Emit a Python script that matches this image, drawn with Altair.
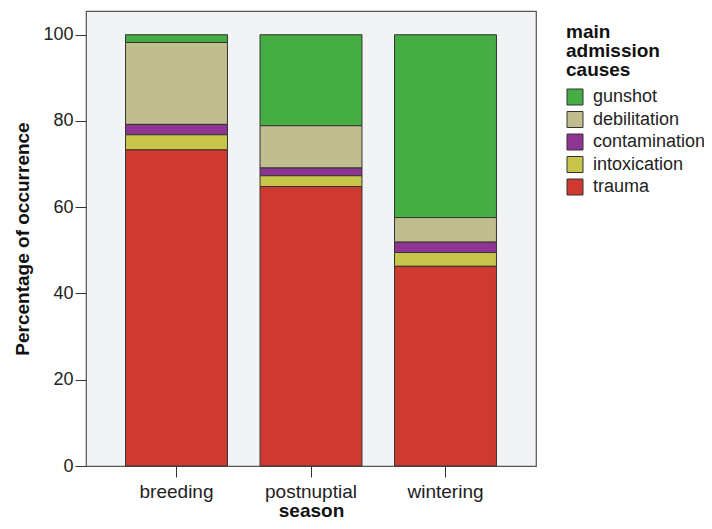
import altair as alt
import pandas as pd

seasons = ["breeding", "postnuptial", "wintering"]
causes = ["gunshot", "debilitation", "contamination", "intoxication", "trauma"]
trauma = [73.3, 64.8, 46.3]
intoxication = [3.5, 2.5, 3.2]
contamination = [2.4, 1.8, 2.4]
debilitation = [19.0, 9.8, 5.7]
gunshot = [1.8, 21.1, 42.4]
colors = ["#45ad43", "#c0be8e", "#8e3593", "#c8c54c", "#cf3a30"]

series = {
    "gunshot": gunshot,
    "debilitation": debilitation,
    "contamination": contamination,
    "intoxication": intoxication,
    "trauma": trauma,
}
rows = []
for c in causes:
    for s, v in zip(seasons, series[c]):
        rows.append({"season": s, "cause": c, "value": v,
                     "rank": len(causes) - causes.index(c)})
df = pd.DataFrame(rows)

FONT = "Liberation Sans"

chart = alt.Chart(df).mark_bar(
    stroke="#333333", strokeWidth=1
).encode(
    x=alt.X("season:N", sort=seasons,
            scale=alt.Scale(paddingInner=0.242, paddingOuter=0.294),
            axis=alt.Axis(title="season", labelAngle=0, labelFontSize=19,
                          labelColor="#222", tickSize=11, tickColor="#333",
                          domain=False, labelPadding=5,
                          titleFontSize=19, titleFontWeight="bold", titleColor="#111",
                          titleX=225, titleY=50, titleBaseline="alphabetic")),
    y=alt.Y("value:Q", stack="zero",
            scale=alt.Scale(domain=[0, 105.5], nice=False, zero=True),
            axis=alt.Axis(title="Percentage of occurrence", values=[0, 20, 40, 60, 80, 100],
                          grid=False, labelFontSize=18, labelColor="#222",
                          tickSize=11, tickColor="#333", domain=False, labelPadding=2,
                          titleFontSize=19, titleFontWeight="bold", titleColor="#111",
                          titleX=-64, titleY=227.5, titleAngle=-90, titleAlign="center",
                          titleBaseline="middle")),
    color=alt.Color("cause:N",
                    scale=alt.Scale(domain=causes, range=colors),
                    legend=alt.Legend(title=["main", "admission", "causes"],
                                      orient="none", legendX=480, legendY=12,
                                      titleFontSize=19, titleFontWeight="bold",
                                      titleColor="#111", titleLineHeight=19,
                                      titlePadding=8,
                                      labelFontSize=18, labelColor="#222",
                                      symbolType="square", symbolSize=256,
                                      symbolStrokeColor="#333", symbolStrokeWidth=1,
                                      symbolOpacity=1, rowPadding=2.5, labelOffset=9)),
    order=alt.Order("rank:Q", sort="ascending"),
).properties(
    width=450, height=455,
    autosize=alt.AutoSizeParams(type="none"),
    padding={"left": 78, "top": 3, "right": 168, "bottom": 55},
    background="white",
).configure(
    font=FONT
).configure_view(
    fill="#f2f3f5", stroke="#555555", strokeWidth=1.2
)

chart.save("out.html", embed_options={"renderer": "svg", "actions": False})
